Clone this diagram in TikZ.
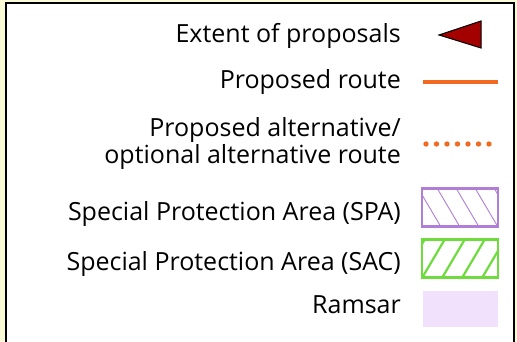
\documentclass[tikz,border=0pt]{standalone}
\usepackage{fontspec}
\setmainfont{Open Sans}
\definecolor{mapbg}{HTML}{FAFAD6}
\definecolor{routeorange}{HTML}{F26A21}
\definecolor{extentred}{HTML}{A30000}
\definecolor{spapurple}{HTML}{B07ED6}
\definecolor{sacgreen}{HTML}{6FDC3E}
\definecolor{ramsarfill}{HTML}{F1E1FC}
\begin{document}
\begin{tikzpicture}[x=1pt,y=-1pt,
  lbl/.style={anchor=base east, inner sep=0pt, font=\fontsize{25}{25}\selectfont},
  keybox/.style={minimum width=76pt, minimum height=38pt, inner sep=0pt, outer sep=0pt}]
\useasboundingbox (0,0) rectangle (517,342);
\fill[mapbg] (0,0) rectangle (517,342);
\draw[line width=2pt, fill=white] (6,3) -- (514,3) -- (514,350) -- (6,350) -- cycle;

% labels
\node[lbl] (t1) at (401,43) {Extent of proposals};
\node[lbl] (t2) at (401,89) {Proposed route};
\node[lbl] (t3) at (401,137) {\begin{tabular}[t]{@{}r@{}}Proposed alternative/\\ optional alternative route\end{tabular}};
\node[lbl] (t4) at (401,220) {Special Protection Area (SPA)};
\node[lbl] (t5) at (401,270) {Special Protection Area (SAC)};
\node[lbl] (t6) at (401,313) {Ramsar};

% extent triangle
\coordinate (tri1) at (439,35);
\coordinate (tri2) at (481,21);
\coordinate (tri3) at (481,48);
\draw[fill=extentred, line width=1pt, line join=miter] (tri1) -- (tri2) -- (tri3) -- cycle;

% proposed route
\coordinate (r1) at (423,82);
\coordinate (r2) at (498,82);
\draw[routeorange, line width=4.5pt] (r1) -- (r2);

% alternative route dots
\foreach \i in {0,...,6} {\fill[routeorange] (426+10.5*\i,144) circle (2.7pt);}

% SPA
\node[keybox, draw=spapurple, line width=2.2pt] (spa) at (460,207.5) {};
\begin{scope}
  \clip (spa.north west) rectangle (spa.south east);
  \foreach \s in {-80,-61,...,100} {\draw[spapurple, line width=0.9pt] (422+\s,188) -- ++(23,39);}
\end{scope}
\draw[spapurple, line width=2.2pt] (spa.north west) rectangle (spa.south east);

% SAC
\node[keybox, draw=sacgreen, line width=2.2pt] (sac) at (460,258.5) {};
\begin{scope}
  \clip (sac.north west) rectangle (sac.south east);
  \foreach \s in {-60,-40,...,120} {\draw[sacgreen, line width=2.2pt] (422+\s,278) -- ++(23,-39);}
\end{scope}
\draw[sacgreen, line width=2.2pt] (sac.north west) rectangle (sac.south east);

% Ramsar
\node[keybox, fill=ramsarfill, minimum height=36pt, minimum width=75pt] (ram) at (460.5,309) {};
\end{tikzpicture}
\end{document}
